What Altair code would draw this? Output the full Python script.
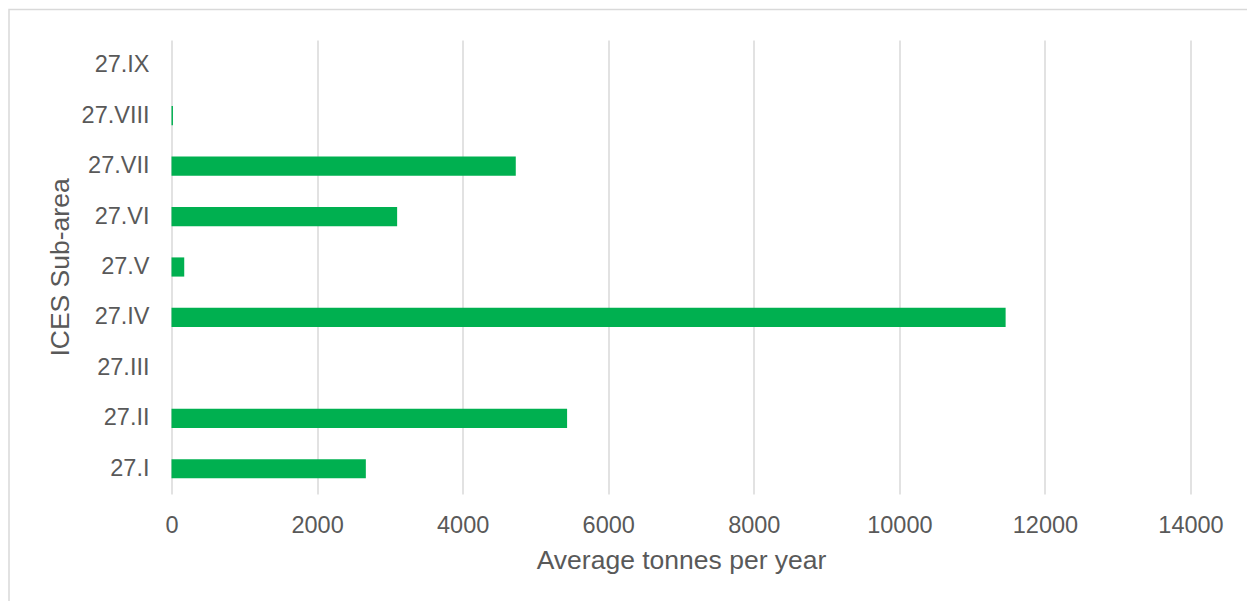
import altair as alt
import pandas as pd

# ICES sub-areas (bottom to top) and average landings in tonnes per year
areas = ["27.I", "27.II", "27.III", "27.IV", "27.V", "27.VI", "27.VII", "27.VIII", "27.IX"]
tonnes = [2670, 5435, 0, 11460, 175, 3100, 4730, 20, 0]

df = pd.DataFrame({"area": areas, "tonnes": tonnes})

TEXT = "#595959"
FONT = "Liberation Sans"
W, H = 1019, 454

bars = alt.Chart(df).mark_bar(color="#00B050").encode(
    x=alt.X(
        "tonnes:Q",
        scale=alt.Scale(domain=[0, 14000], nice=False),
        axis=alt.Axis(
            title="Average tonnes per year",
            values=list(range(0, 14001, 2000)),
            format="d",
            grid=True,
            gridColor="#d9d9d9",
            gridWidth=1.5,
            domain=False,
            ticks=False,
            tickSize=0,
            labelFlush=False,
            labelPadding=19.5,
            labelFontSize=23.5,
            labelColor=TEXT,
            labelFont=FONT,
            titleFontSize=26.5,
            titleFontWeight="normal",
            titleColor=TEXT,
            titleFont=FONT,
            titleBaseline="alphabetic",
            titleX=W / 2,
            titleY=74,
        ),
    ),
    y=alt.Y(
        "area:N",
        sort=areas[::-1],
        scale=alt.Scale(paddingInner=0.62, paddingOuter=0.31),
        axis=alt.Axis(
            title="ICES Sub-area",
            domain=False,
            ticks=False,
            tickSize=0,
            grid=False,
            labelPadding=22.5,
            labelFontSize=23.5,
            labelColor=TEXT,
            labelFont=FONT,
            titleFontSize=26.5,
            titleFontWeight="normal",
            titleColor=TEXT,
            titleFont=FONT,
            titleAngle=270,
            titleBaseline="alphabetic",
            titleX=-103,
            titleY=H / 2,
        ),
    ),
)

# light frame around the chart area
frame = alt.Chart(alt.Data(values=[{}])).mark_rect(
    fill="transparent", stroke="#d9d9d9", strokeWidth=1.5
).encode(
    x=alt.value(-162.5),
    x2=alt.value(1200),
    y=alt.value(-30.5),
    y2=alt.value(700),
)

chart = (
    alt.layer(frame, bars)
    .properties(
        width=W,
        height=H,
        autosize=alt.AutoSizeParams(type="none"),
        padding={"left": 171.5, "top": 40, "right": 1247 - 171.5 - W, "bottom": 601 - 40 - H},
        background="white",
    )
    .configure_view(stroke=None)
)

chart.save("out.html", embed_options={"renderer": "svg", "actions": False})
